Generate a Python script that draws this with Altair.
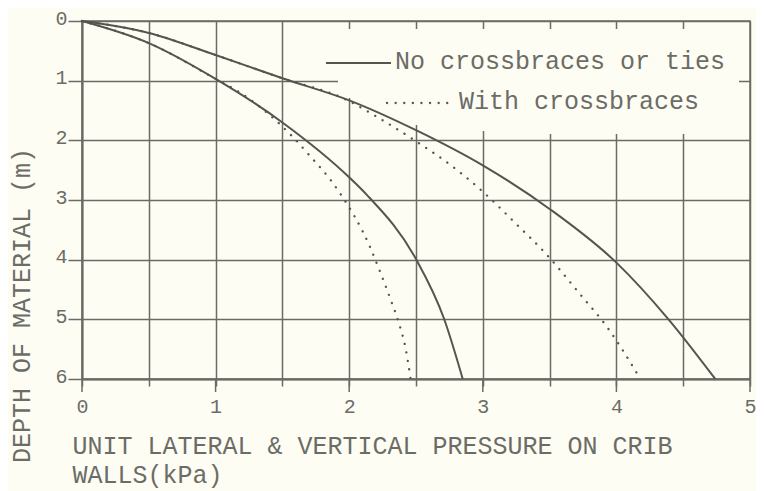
import altair as alt
import pandas as pd

# ---- data ----
depth_ticks = [0, 1, 2, 3, 4, 5, 6]
pressure_ticks = [0, 1, 2, 3, 4, 5]
pressure_half_ticks = [0, 0.5, 1, 1.5, 2, 2.5, 3, 3.5, 4, 4.5, 5]

outer_solid_x = [0, 0.5, 1.0, 1.5, 2.0, 2.5, 3.0, 3.5, 4.0, 4.39, 4.74]
outer_solid_y = [0, 0.2, 0.57, 0.96, 1.33, 1.83, 2.42, 3.15, 4.05, 5.0, 6.0]

outer_dotted_x = [0, 0.5, 1.0, 1.5, 1.97, 2.21, 2.49, 2.78, 3.0, 3.24, 3.48, 3.71, 3.94, 4.18]
outer_dotted_y = [0, 0.2, 0.57, 0.96, 1.31, 1.61, 2.0, 2.45, 2.86, 3.38, 3.92, 4.53, 5.16, 6.0]

inner_solid_x = [0, 0.5, 1.0, 1.5, 2.0, 2.13, 2.5, 2.71, 2.85]
inner_solid_y = [0, 0.37, 0.97, 1.7, 2.62, 2.91, 3.99, 4.99, 6.0]

inner_dotted_x = [0, 0.5, 1.0, 1.19, 1.55, 1.69, 1.92, 2.16, 2.22, 2.31, 2.38, 2.42, 2.46]
inner_dotted_y = [0, 0.37, 0.97, 1.21, 1.88, 2.22, 2.85, 3.81, 4.14, 4.67, 5.12, 5.46, 6.0]

legend_labels = ["No crossbraces or ties", "With crossbraces"]
x_title = ["UNIT LATERAL & VERTICAL PRESSURE ON CRIB", "WALLS(kPa)"]
y_title = "DEPTH OF MATERIAL (m)"

rows = []
for name, style, xs, ys in [
    ("outer", "solid", outer_solid_x, outer_solid_y),
    ("outer", "dotted", outer_dotted_x, outer_dotted_y),
    ("inner", "solid", inner_solid_x, inner_solid_y),
    ("inner", "dotted", inner_dotted_x, inner_dotted_y),
]:
    for i, (px, py) in enumerate(zip(xs, ys)):
        rows.append({"curve": name + "_" + style, "style": style,
                     "pressure": px, "depth": py, "order": i})
df = pd.DataFrame(rows)

BG = "#fdfdf4"
LINE = "#55554f"
GRID = "#6b6b66"
TEXT = "#6c6c67"
FONT = "Liberation Mono"
TFS = 25
W, H = 668, 358

xscale = alt.Scale(domain=[0, 5], nice=False, zero=False)
yscale = alt.Scale(domain=[0, 6], nice=False, zero=False, reverse=True)

x_axis = alt.Axis(
    values=pressure_half_ticks, grid=True, gridColor=GRID, gridWidth=1.5,
    domainColor=GRID, domainWidth=2, tickColor=GRID, tickWidth=1.5, tickSize=7,
    labelExpr="datum.value % 1 === 0 ? format(datum.value, 'd') : ''",
    labelFont=FONT, labelFontSize=20, labelColor=TEXT, labelPadding=10,
    labelFlush=False, labelOverlap=False,
    title=x_title, titleFont=FONT, titleFontSize=TFS, titleFontWeight="normal",
    titleColor=TEXT, titleAlign="left", titleBaseline="alphabetic",
    titleX=-10, titleY=74, titleLineHeight=29, titleAngle=0,
)
y_axis = alt.Axis(
    values=depth_ticks, grid=True, gridColor=GRID, gridWidth=1.5, format="d",
    domainColor=GRID, domainWidth=2, tickColor=GRID, tickWidth=1.5, tickSize=14,
    labelFont=FONT, labelFontSize=20, labelColor=TEXT, labelPadding=1,
    labelBaseline="middle", labelOffset=-3, labelFlush=False, labelOverlap=False,
    title=y_title, titleFont=FONT, titleFontSize=TFS, titleFontWeight="normal",
    titleColor=TEXT, titleAlign="center", titleBaseline="middle",
    titleX=-61, titleY=284, titleAngle=270,
)

# empty frame carrying the axes and grid
frame = alt.Chart(df).mark_line(opacity=0).encode(
    x=alt.X("pressure:Q", scale=xscale, axis=x_axis),
    y=alt.Y("depth:Q", scale=yscale, axis=y_axis),
    detail="curve:N",
)

# longer ticks at whole units
tick_df = pd.DataFrame({"pressure": pressure_ticks})
long_ticks = alt.Chart(tick_df).mark_rule(color=GRID, strokeWidth=1.5).encode(
    x=alt.X("pressure:Q", scale=xscale),
    y=alt.value(H), y2=alt.value(H + 13),
)

one = alt.Data(values=[{}])
# legend box area (blank region in the grid)
R = W - 11
blank_parts = [(256, R, 8, 77), (297, R, 77, 104), (381, R, 104, 110), (436, R, 110, 113)]
blanks = [
    alt.Chart(one).mark_rect(color=BG).encode(
        x=alt.value(a), x2=alt.value(b), y=alt.value(c), y2=alt.value(d))
    for a, b, c, d in blank_parts
]

solid = alt.Chart(df).transform_filter(alt.datum.style == "solid").mark_line(
    color=LINE, strokeWidth=2, interpolate="monotone"
).encode(
    x=alt.X("pressure:Q", scale=xscale),
    y=alt.Y("depth:Q", scale=yscale),
    detail="curve:N",
)
dotted = alt.Chart(df).transform_filter(alt.datum.style == "dotted").mark_line(
    color=LINE, strokeWidth=2.3, interpolate="monotone",
    strokeDash=[0.1, 8.5], strokeCap="round"
).encode(
    x=alt.X("pressure:Q", scale=xscale),
    y=alt.Y("depth:Q", scale=yscale),
    detail="curve:N",
)

leg_solid = alt.Chart(one).mark_rule(color=LINE, strokeWidth=2).encode(
    x=alt.value(244), x2=alt.value(309), y=alt.value(42))
leg_dot = alt.Chart(one).mark_rule(color=LINE, strokeWidth=2.3, strokeDash=[0.1, 8.5],
                                   strokeCap="round").encode(
    x=alt.value(305), x2=alt.value(372), y=alt.value(82))
leg_t1 = alt.Chart(one).mark_text(text=legend_labels[0], align="left", baseline="middle",
                                  font=FONT, fontSize=TFS, color=TEXT).encode(
    x=alt.value(313), y=alt.value(40))
leg_t2 = alt.Chart(one).mark_text(text=legend_labels[1], align="left", baseline="middle",
                                  font=FONT, fontSize=TFS, color=TEXT).encode(
    x=alt.value(377), y=alt.value(80))

chart = alt.layer(
    frame, long_ticks, *blanks, solid, dotted, leg_solid, leg_dot, leg_t1, leg_t2
).properties(
    width=W, height=H,
    autosize=alt.AutoSizeParams(type="none"),
    padding={"left": 74, "top": 13, "right": 6, "bottom": 112},
    background=BG,
).configure_view(stroke=GRID, strokeWidth=1.5)

chart.save("out.html", embed_options={"renderer": "svg", "actions": False})
